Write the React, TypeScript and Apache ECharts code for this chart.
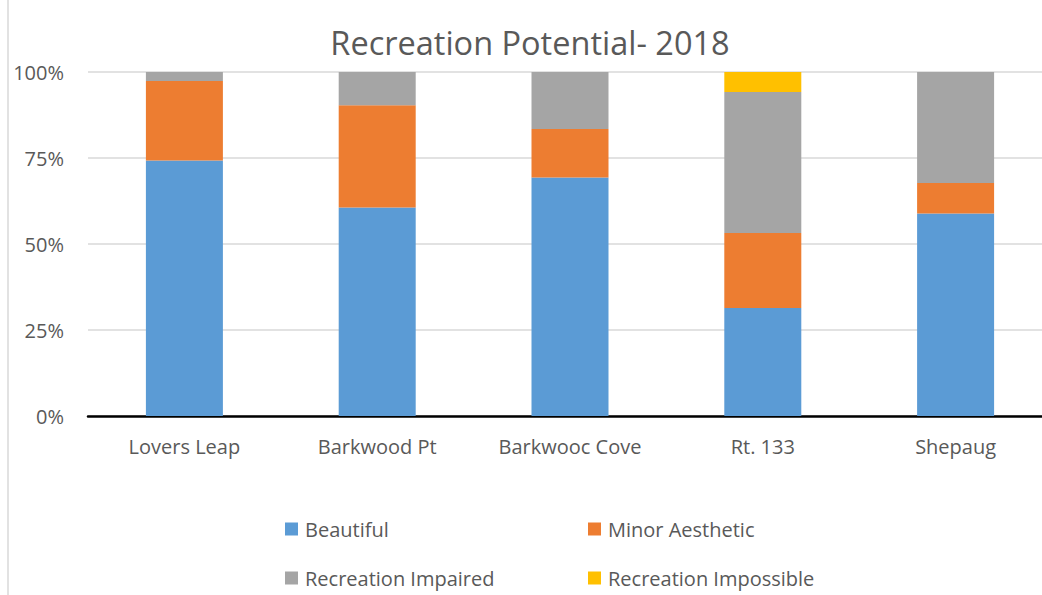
import React, { useEffect, useRef } from "react";
import * as echarts from "echarts";

const categories = ["Lovers Leap", "Barkwood Pt", "Barkwooc Cove", "Rt. 133", "Shepaug"];
const beautiful = [74.3, 60.6, 69.3, 31.4, 58.9];
const minorAesthetic = [23.1, 29.7, 14.1, 21.8, 8.8];
const recreationImpaired = [2.6, 9.7, 16.6, 41.0, 32.3];
const recreationImpossible = [0, 0, 0, 5.8, 0];
const yTicks = [0, 25, 50, 75, 100];

const TEXT = "#595959";
const FONT = "'Open Sans', sans-serif";

export default function App() {
  const ref = useRef<HTMLDivElement>(null);
  useEffect(() => {
    if (!ref.current) return;
    const chart = echarts.init(ref.current, null, { renderer: "svg" });
    const mk = (name: string, data: number[], color: string) => ({
      name,
      type: "bar",
      stack: "total",
      data,
      barWidth: 77,
      itemStyle: { color },
      emphasis: { disabled: true },
    });
    const legendText = { color: TEXT, fontFamily: FONT, fontSize: 20, lineHeight: 20, padding: [0, 0, 0, 2] };
    chart.setOption({
      animation: false,
      backgroundColor: "#ffffff",
      title: {
        text: "Recreation Potential- 2018",
        left: 525,
        textAlign: "center",
        top: 21,
        textStyle: { color: TEXT, fontFamily: FONT, fontSize: 32.5, fontWeight: "normal" },
      },
      grid: { left: 88, top: 72, width: 964, height: 344, containLabel: false },
      xAxis: {
        type: "category",
        data: categories,
        axisLine: { lineStyle: { color: "#000000", width: 2.5 } },
        axisTick: { show: false },
        axisLabel: { color: TEXT, fontFamily: FONT, fontSize: 20, margin: 20 },
      },
      yAxis: {
        type: "value",
        min: 0,
        max: 100,
        interval: 25,
        axisLine: { show: false },
        axisTick: { show: false },
        splitLine: { lineStyle: { color: "#d9d9d9", width: 1.5 } },
        axisLabel: {
          color: TEXT,
          fontFamily: FONT,
          fontSize: 20,
          margin: 24,
          formatter: (v: number) => (yTicks.includes(v) ? v + "%" : ""),
        },
      },
      legend: [
        {
          data: ["Beautiful", "Recreation Impaired"],
          orient: "vertical",
          left: 285,
          top: 519,
          padding: 0,
          icon: "rect",
          itemWidth: 13,
          itemHeight: 13,
          itemGap: 29,
          selectedMode: false,
          textStyle: legendText,
        },
        {
          data: ["Minor Aesthetic", "Recreation Impossible"],
          orient: "vertical",
          left: 588,
          top: 519,
          padding: 0,
          icon: "rect",
          itemWidth: 13,
          itemHeight: 13,
          itemGap: 29,
          selectedMode: false,
          textStyle: legendText,
        },
      ],
      graphic: [
        {
          type: "line",
          shape: { x1: 8, y1: 0, x2: 8, y2: 595 },
          style: { stroke: "#d9d9d9", lineWidth: 1.5 },
        },
      ],
      series: [
        mk("Beautiful", beautiful, "#5b9bd5"),
        mk("Minor Aesthetic", minorAesthetic, "#ed7d31"),
        mk("Recreation Impaired", recreationImpaired, "#a5a5a5"),
        mk("Recreation Impossible", recreationImpossible, "#ffc000"),
      ],
    });
    return () => chart.dispose();
  }, []);
  return (
    <div
      ref={ref}
      style={{ position: "fixed", left: 0, top: 0, width: 1070, height: 595 }}
    />
  );
}
